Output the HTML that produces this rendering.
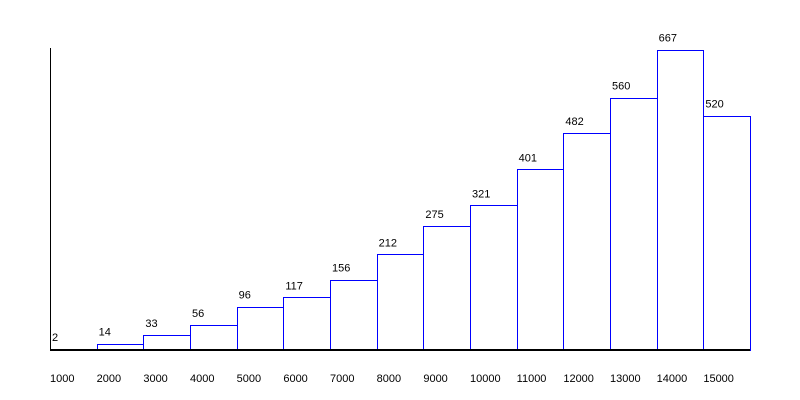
<!DOCTYPE html>
<html><head><meta charset="utf-8"><style>
html,body{margin:0;padding:0;background:#fff;}
svg{display:block;font-family:"Liberation Sans",Arial,sans-serif;font-size:11px;}
</style></head><body>
<svg id="chart" width="800" height="400"></svg>
<script>
const categories=["1000","2000","3000","4000","5000","6000","7000","8000","9000","10000","11000","12000","13000","14000","15000"];
const values=[2,14,33,56,96,117,156,212,275,321,401,482,560,667,520];
const yMax=667;
const NS="http://www.w3.org/2000/svg";
const svg=document.getElementById('chart');
const x0=50,x1=750,yBase=350,yTop=49.5;
const bw=(x1-x0)/categories.length;
function xs(i){return x0+i*bw;}
function ys(v){return yBase-(v/yMax)*(yBase-yTop);}
function mk(t,a){const e=document.createElementNS(NS,t);for(const k in a)e.setAttribute(k,a[k]);svg.appendChild(e);return e;}
categories.forEach((c,i)=>{
  const v=values[i];
  const L=Math.round(xs(i)),R=Math.round(xs(i+1)),T=Math.round(ys(v));
  const r=mk('rect',{x:L+0.5,y:T+0.5,width:R-L,height:yBase-T,fill:'#fff',stroke:'#0000ff','stroke-width':1,'shape-rendering':'crispEdges'});
  
  
  const t=mk('text',{x:xs(i)+2,y:ys(v)-8,fill:'#000'});
  t.textContent=v;
  
  
  const l=mk('text',{x:xs(i),y:382,fill:'#000'});
  l.textContent=c;
  
  
});
const ya=mk('line',{x1:50.5,y1:48,x2:50.5,y2:350,stroke:'#000','stroke-width':1,'shape-rendering':'crispEdges'});


const xa=mk('line',{x1:50,y1:350,x2:750,y2:350,stroke:'#000','stroke-width':2,'shape-rendering':'crispEdges'});


</script>
</body></html>
